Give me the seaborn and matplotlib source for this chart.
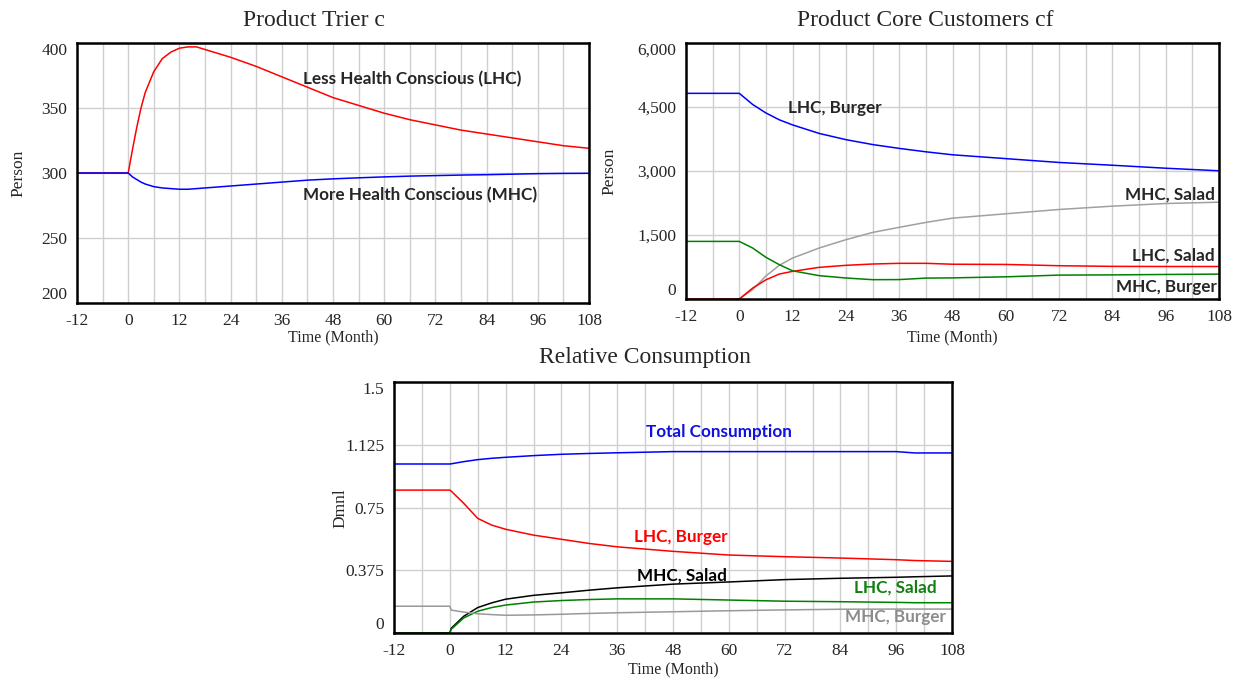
import matplotlib
matplotlib.use("Agg")
import matplotlib.pyplot as plt
import seaborn as sns
from matplotlib.ticker import FuncFormatter

# ---- data ----
months = list(range(-12, 109, 12))

# Product Trier c
t_trier = [-12, 0, 1, 2, 3, 4, 6, 8, 10, 12, 14, 16, 18, 20, 24, 30, 36, 42,
           48, 54, 60, 66, 72, 78, 84, 90, 96, 102, 108]
lhc_trier = [300, 300, 318, 335, 350, 362, 378, 388, 393, 396, 397, 397, 395,
             393, 389, 382, 374, 366, 358, 352, 346, 341, 337, 333, 330, 327,
             324, 321, 319]
mhc_trier = [300, 300, 297, 295, 293, 291.5, 289.5, 288.5, 288, 287.5, 287.5,
             288, 288.5, 289, 290, 291.5, 293, 294.5, 295.5, 296.3, 297, 297.6,
             298, 298.4, 298.7, 299.1, 299.5, 299.7, 299.8]

# Product Core Customers cf
t_cf = [-12, 0, 3, 6, 9, 12, 18, 24, 30, 36, 42, 48, 60, 72, 84, 96, 108]
lhc_burger_cf = [4820, 4820, 4560, 4360, 4200, 4080, 3880, 3735, 3620, 3530,
                 3450, 3380, 3290, 3200, 3135, 3065, 3005]
mhc_salad_cf = [0, 0, 220, 540, 790, 960, 1195, 1390, 1560, 1680, 1795, 1895,
                1997, 2098, 2176, 2238, 2269]
lhc_salad_cf = [0, 0, 255, 450, 585, 648, 742, 789, 820, 836, 836, 815, 810,
                780, 765, 762, 762]
mhc_burger_cf = [1350, 1350, 1195, 977, 805, 660, 547, 492, 453, 455, 490, 495,
                 520, 560, 565, 575, 583]

# Relative Consumption
t_rc = [-12, 0, 0.3, 3, 6, 9, 12, 18, 24, 30, 36, 48, 60, 72, 84, 96, 100, 108]
total_rc = [1.01, 1.01, 1.011, 1.024, 1.036, 1.044, 1.05, 1.06, 1.068, 1.073,
            1.077, 1.084, 1.084, 1.084, 1.084, 1.084, 1.076, 1.076]
lhc_burger_rc = [0.854, 0.854, 0.848, 0.775, 0.685, 0.645, 0.62, 0.585, 0.56,
                 0.535, 0.515, 0.488, 0.466, 0.456, 0.448, 0.438, 0.433, 0.428]
mhc_salad_rc = [0, 0, 0.028, 0.1, 0.152, 0.18, 0.202, 0.225, 0.24, 0.256,
                0.27, 0.292, 0.305, 0.319, 0.327, 0.333, 0.336, 0.341]
lhc_salad_rc = [0, 0, 0.022, 0.09, 0.13, 0.152, 0.167, 0.185, 0.194, 0.2,
                0.204, 0.204, 0.197, 0.19, 0.187, 0.183, 0.181, 0.181]
mhc_burger_rc = [0.16, 0.16, 0.137, 0.125, 0.115, 0.11, 0.106, 0.108, 0.112,
                 0.117, 0.121, 0.127, 0.133, 0.138, 0.142, 0.143, 0.143, 0.143]

sns.set_style("white")
plt.rcParams['font.family'] = ['Liberation Serif', 'DejaVu Serif']
plt.rcParams['axes.unicode_minus'] = False

W, H = 1243, 681
fig = plt.figure(figsize=(W / 100, H / 100), dpi=100)


def rect(l, t, r, b):
    return [l / W, 1 - b / H, (r - l) / W, (b - t) / H]


def ftext(x, y, s, **kw):
    fig.text(x / W, 1 - y / H, s, **kw)


def setup(ax, yticks, fmt):
    ax.set_xlim(-12, 108)
    ax.set_ylim(yticks[0], yticks[-1])
    ax.set_xticks(months)
    ax.set_xticks(range(-12, 109, 6), minor=True)
    ax.set_yticks(yticks)
    ax.yaxis.set_major_formatter(FuncFormatter(fmt))
    ax.grid(True, which='both', axis='x', color='#cfcfcf', lw=1)
    ax.grid(True, which='major', axis='y', color='#cfcfcf', lw=1)
    ax.tick_params(which='both', length=0, labelsize=12.5, pad=7)
    for sp in ax.spines.values():
        sp.set_color('black')
        sp.set_linewidth(1.8)
    ax.set_xlabel('')
    ax.set_ylabel('')
    yt = ax.yaxis.get_major_ticks()
    yt[0].label1.set_va('bottom')
    yt[-1].label1.set_va('top')


def line(ax, x, y, c):
    sns.lineplot(x=x, y=y, ax=ax, color=c, lw=1.1, estimator=None, sort=False)


bold = dict(family=['Lato', 'DejaVu Sans'], fontweight='bold', fontsize=12.3)

# ---- Product Trier c ----
ax1 = fig.add_axes(rect(77, 43, 589, 303))
line(ax1, t_trier, lhc_trier, '#ff0000')
line(ax1, t_trier, mhc_trier, '#0000ff')
setup(ax1, [200, 250, 300, 350, 400], lambda v, p: f"{v:.0f}")
ax1.text(41, 372, "Less Health Conscious (LHC)", va='center', **bold)
ax1.text(41, 283, "More Health Conscious (MHC)", va='center', **bold)
ftext(314, 20, "Product Trier c", ha='center', va='center', fontsize=17)
ftext(333, 337, "Time (Month)", ha='center', va='center', fontsize=11.5)
ftext(18, 173, "Person", ha='center', va='center', rotation=90, fontsize=12.5)

# ---- Product Core Customers cf ----
ax2 = fig.add_axes(rect(686, 43, 1219, 299))
line(ax2, t_cf, lhc_burger_cf, '#0000ff')
line(ax2, t_cf, mhc_salad_cf, '#a0a0a0')
line(ax2, t_cf, lhc_salad_cf, '#ff0000')
line(ax2, t_cf, mhc_burger_cf, '#008000')
setup(ax2, [0, 1500, 3000, 4500, 6000], lambda v, p: f"{v:,.0f}")
ax2.text(11, 4480, "LHC, Burger", va='center', **bold)
ax2.text(107, 2440, "MHC, Salad", va='center', ha='right', **bold)
ax2.text(107, 1030, "LHC, Salad", va='center', ha='right', **bold)
ax2.text(107.5, 280, "MHC, Burger", va='center', ha='right', **bold)
ftext(925, 20, "Product Core Customers cf", ha='center', va='center', fontsize=17)
ftext(952, 337, "Time (Month)", ha='center', va='center', fontsize=11.5)
ftext(609, 171, "Person", ha='center', va='center', rotation=90, fontsize=12.5)

# ---- Relative Consumption ----
ax3 = fig.add_axes(rect(394, 382, 952, 633))
line(ax3, t_rc, total_rc, '#0000ff')
line(ax3, t_rc, lhc_burger_rc, '#ff0000')
line(ax3, t_rc, mhc_salad_rc, '#000000')
line(ax3, t_rc, lhc_salad_rc, '#008000')
line(ax3, t_rc, mhc_burger_rc, '#999999')


def rc_fmt(v, p):
    return "0" if v == 0 else f"{v:g}"


setup(ax3, [0, 0.375, 0.75, 1.125, 1.5], rc_fmt)
ax3.text(42.2, 1.2, "Total Consumption", va='center', color='#1010e0', **bold)
ax3.text(39.6, 0.574, "LHC, Burger", va='center', color='#ff0000', **bold)
ax3.text(40.3, 0.341, "MHC, Salad", va='center', color='#000000', **bold)
ax3.text(104.8, 0.269, "LHC, Salad", va='center', ha='right', color='#108010', **bold)
ax3.text(106.7, 0.096, "MHC, Burger", va='center', ha='right', color='#8c8c8c', **bold)
ftext(645, 357, "Relative Consumption", ha='center', va='center', fontsize=17)
ftext(673, 669, "Time (Month)", ha='center', va='center', fontsize=11.5)
ftext(340, 508, "Dmnl", ha='center', va='center', rotation=90, fontsize=12.5)

fig.savefig("out.png", dpi=100)
